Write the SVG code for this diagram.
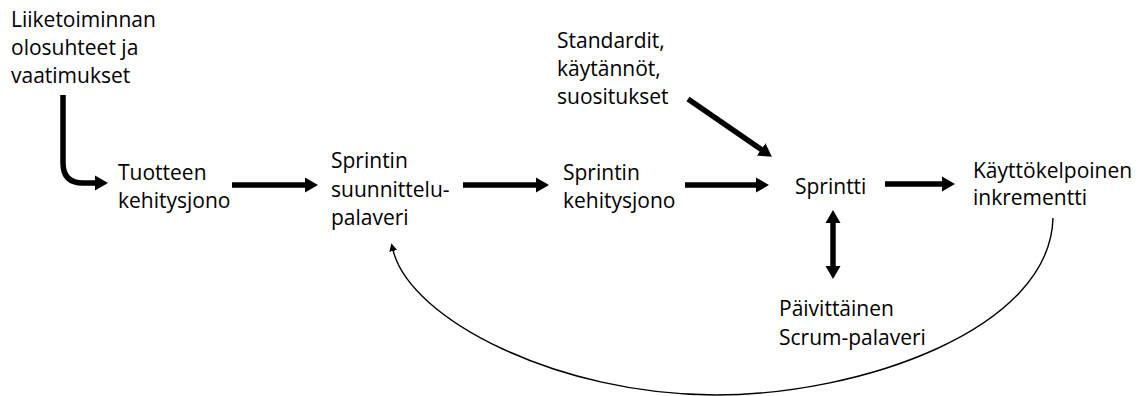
<svg xmlns="http://www.w3.org/2000/svg" width="1143" height="396" viewBox="0 0 1143 396">
  <style>
    text { font-family: "Open Sans", "Liberation Sans", sans-serif; font-size: 21px; fill: #000; }
    .thick { fill: none; stroke: #000; stroke-width: 5.5; }
    .thin { fill: none; stroke: #000; stroke-width: 1.4; }
  </style>
  <defs>
    <marker id="head" markerUnits="userSpaceOnUse" markerWidth="16" markerHeight="18" viewBox="0 -9 16 18" refX="1" refY="0" orient="auto-start-reverse">
      <path d="M0,-7.5 L13,0 L0,7.5 z" fill="#000"/>
    </marker>
    <marker id="headSmall" markerUnits="userSpaceOnUse" markerWidth="12" markerHeight="12" viewBox="0 -6 12 12" refX="1" refY="0" orient="auto">
      <path d="M0,-4 L8,0 L0,4 z" fill="#000"/>
    </marker>
  </defs>

  <g id="connectors">
    <path class="thick" d="M63,95 V163 Q63,183 83,183 H96" marker-end="url(#head)"/>
    <path class="thick" d="M232,185 H306" marker-end="url(#head)"/>
    <path class="thick" d="M463,185 H537" marker-end="url(#head)"/>
    <path class="thick" d="M685,185 H757" marker-end="url(#head)"/>
    <path class="thick" d="M688,99 L762,150" marker-end="url(#head)"/>
    <path class="thick" d="M885,184 H943" marker-end="url(#head)"/>
    <path class="thick" d="M833,222 V267" marker-start="url(#head)" marker-end="url(#head)"/>
    <path class="thin" d="M1053,218 C1050,330 860,395 715,395 C560,395 410,320 393,250" marker-end="url(#headSmall)"/>
  </g>

  <g id="liiketoiminta">
    <text x="11" y="27">Liiketoiminnan</text>
    <text x="11" y="55">olosuhteet ja</text>
    <text x="11" y="83">vaatimukset</text>
  </g>
  <g id="tuotteen-kehitysjono">
    <text x="118" y="180">Tuotteen</text>
    <text x="118" y="208">kehitysjono</text>
  </g>
  <g id="suunnittelupalaveri">
    <text x="331" y="168">Sprintin</text>
    <text x="331" y="197">suunnittelu-</text>
    <text x="331" y="225">palaveri</text>
  </g>
  <g id="sprintin-kehitysjono">
    <text x="563" y="180">Sprintin</text>
    <text x="563" y="208">kehitysjono</text>
  </g>
  <g id="standardit">
    <text x="557" y="48">Standardit,</text>
    <text x="557" y="76">käytännöt,</text>
    <text x="557" y="104">suositukset</text>
  </g>
  <g id="sprintti">
    <text x="795" y="194">Sprintti</text>
  </g>
  <g id="inkrementti">
    <text x="973" y="178">Käyttökelpoinen</text>
    <text x="973" y="205">inkrementti</text>
  </g>
  <g id="paivittainen">
    <text x="779" y="316">Päivittäinen</text>
    <text x="779" y="345">Scrum-palaveri</text>
  </g>
</svg>
